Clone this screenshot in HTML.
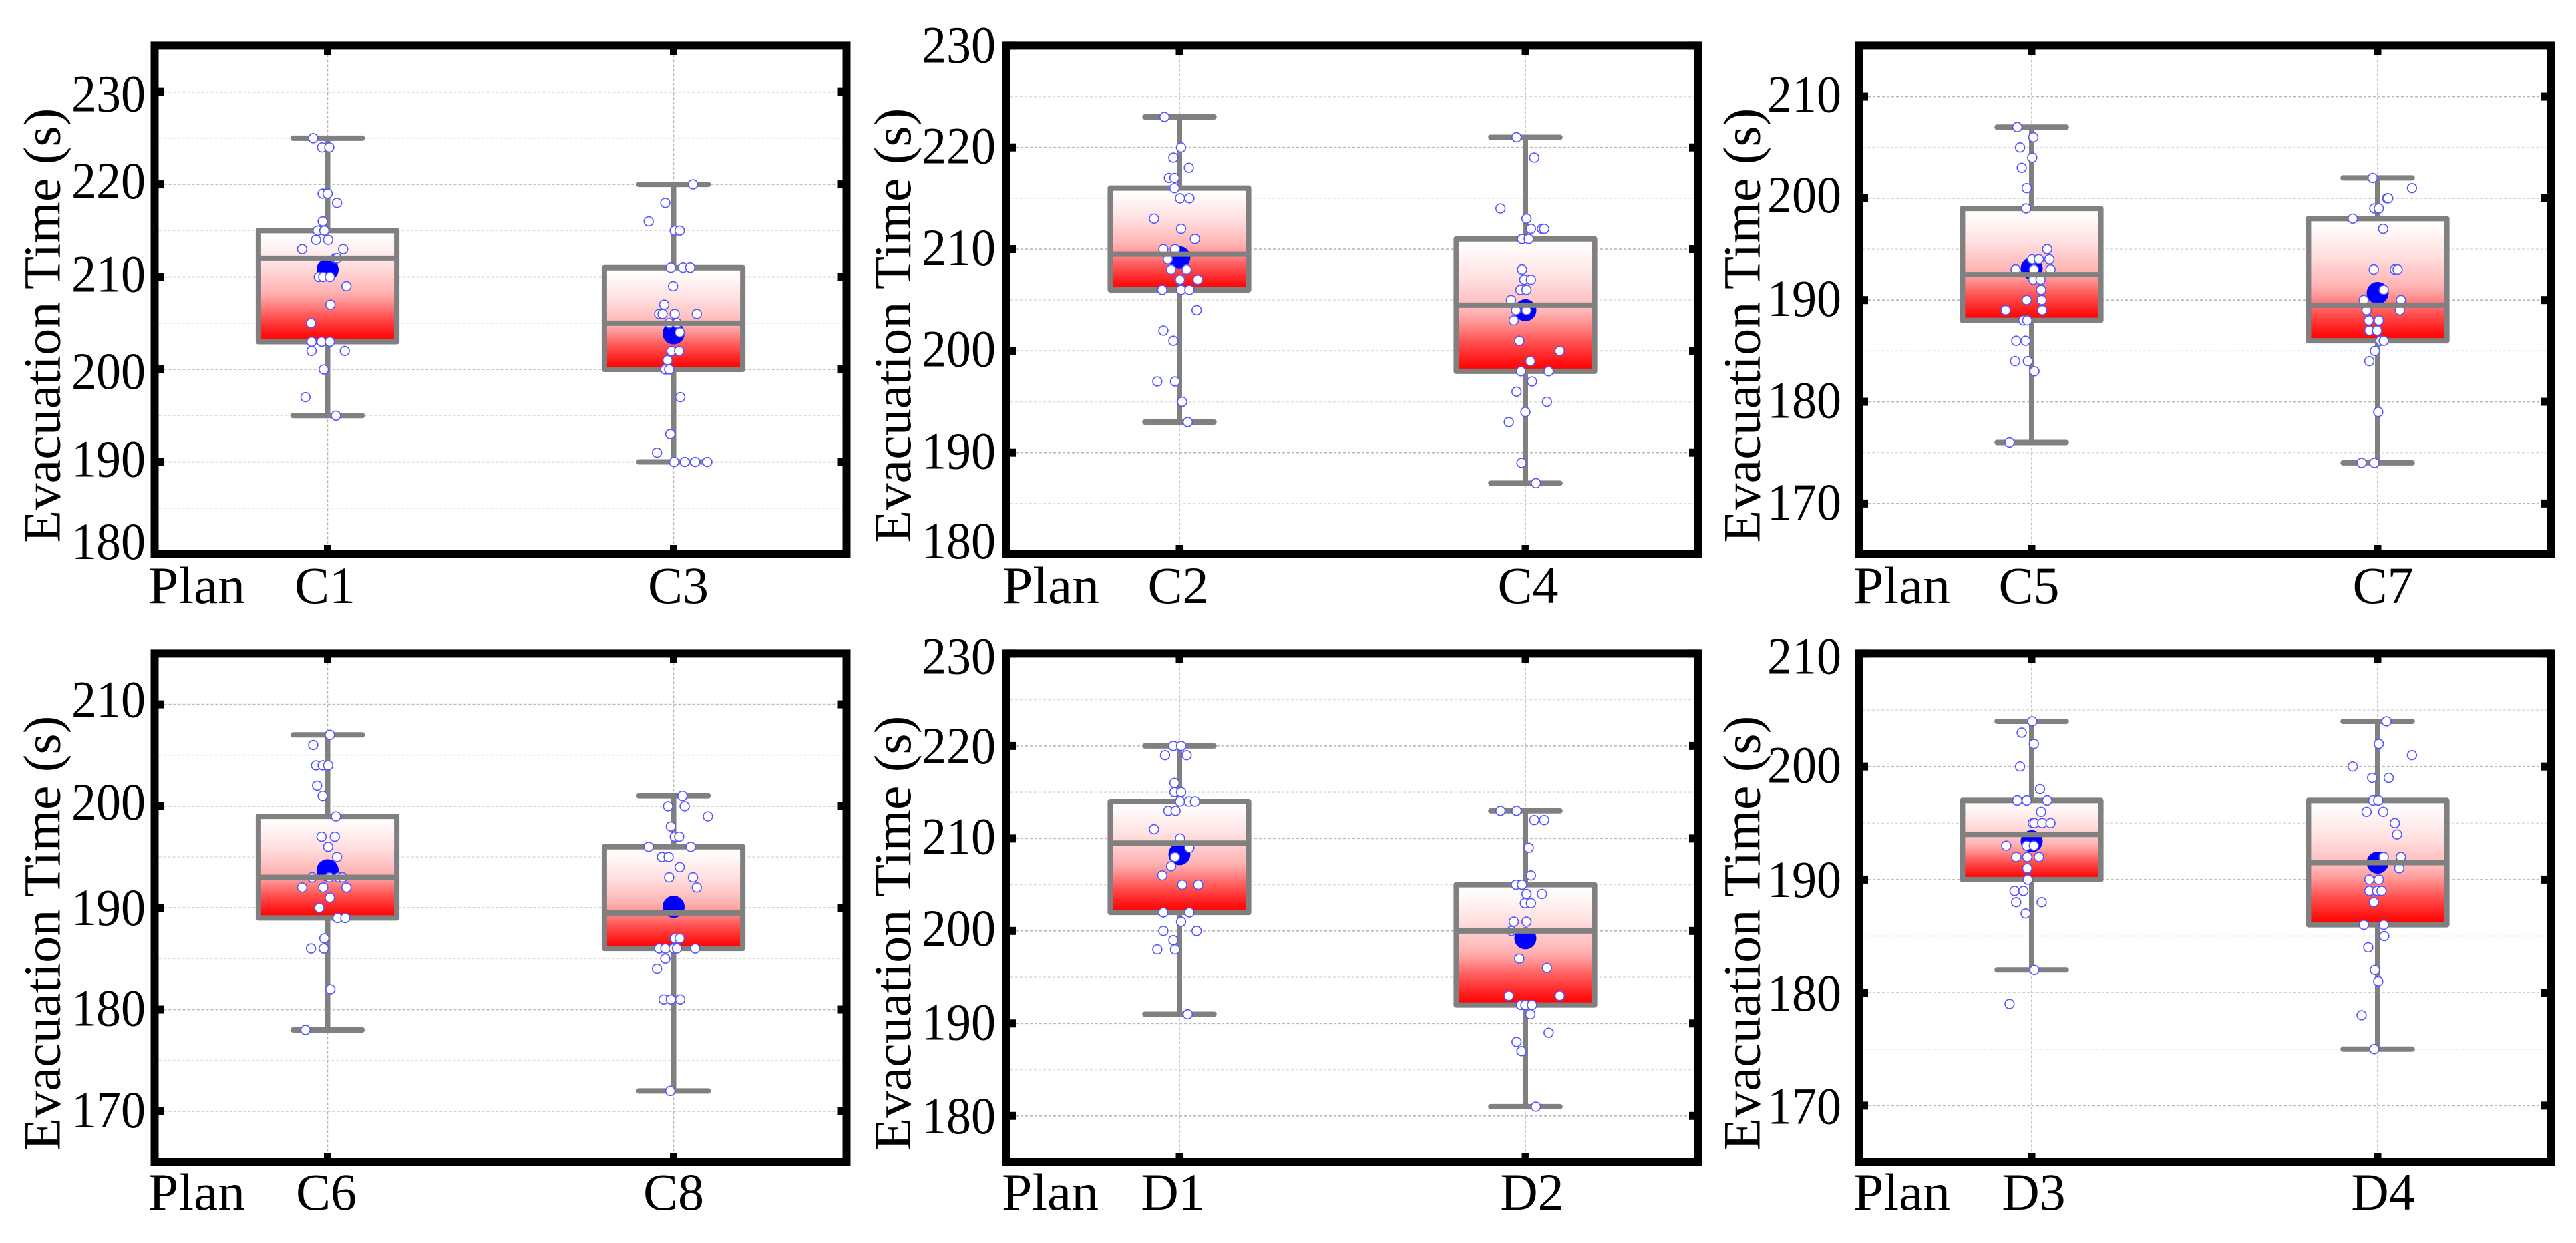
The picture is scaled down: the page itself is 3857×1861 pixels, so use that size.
<!DOCTYPE html>
<html lang="en">
<head>
<meta charset="utf-8">
<title>Evacuation time box plots</title>
<style>
  html, body { margin: 0; padding: 0; background: #fff; }
  #chart { display: block; width: 3857px; height: 1861px; }
  text { font-family: "Liberation Serif", serif; fill: #000; }
</style>
</head>
<body>
<svg id="chart" xmlns="http://www.w3.org/2000/svg" width="3857" height="1861" viewBox="0 0 3857 1861">
  <defs>
    <linearGradient id="boxFill" x1="0" y1="0" x2="0" y2="1">
      <stop offset="0" stop-color="#ffffff"/>
      <stop offset="0.08" stop-color="#fffafa"/>
      <stop offset="0.3" stop-color="#ffe0e0"/>
      <stop offset="0.55" stop-color="#ffb4b4"/>
      <stop offset="0.62" stop-color="#ff9a9a"/>
      <stop offset="0.78" stop-color="#ff5050"/>
      <stop offset="0.94" stop-color="#ff1010"/>
      <stop offset="1" stop-color="#ff0000"/>
    </linearGradient>
  </defs>
  <rect x="0" y="0" width="3857" height="1861" fill="#ffffff"/>
</svg>
<script>
/* ---------- Data: y-axis ranges and tick labels ---------- */
const domainC1C3 = [180, 235];
const domainC2C4 = [180, 230];
const domainC5C7 = [165, 215];
const domainC6C8 = [165, 215];
const domainD1D2 = [175, 230];
const domainD3D4 = [165, 210];

const ticksC1C3 = [180, 190, 200, 210, 220, 230];
const ticksC2C4 = [180, 190, 200, 210, 220, 230];
const ticksC5C7 = [170, 180, 190, 200, 210];
const ticksC6C8 = [170, 180, 190, 200, 210];
const ticksD1D2 = [180, 190, 200, 210, 220, 230];
const ticksD3D4 = [170, 180, 190, 200, 210];

/* ---------- Data: plan names ---------- */
const plansC1C3 = ["C1", "C3"];
const plansC2C4 = ["C2", "C4"];
const plansC5C7 = ["C5", "C7"];
const plansC6C8 = ["C6", "C8"];
const plansD1D2 = ["D1", "D2"];
const plansD3D4 = ["D3", "D4"];

/* ---------- Data: box statistics [lower whisker, Q1, median, Q3, upper whisker] ---------- */
const boxC1 = [195, 203, 212, 215, 225];
const boxC3 = [190, 200, 205, 211, 220];
const boxC2 = [193, 206, 209.5, 216, 223];
const boxC4 = [187, 198, 204.5, 211, 221];
const boxC5 = [176, 188, 192.5, 199, 207];
const boxC7 = [174, 186, 189.5, 198, 202];
const boxC6 = [178, 189, 193, 199, 207];
const boxC8 = [172, 186, 189.5, 196, 201];
const boxD1 = [191, 202, 209.5, 214, 220];
const boxD2 = [181, 192, 200, 205, 213];
const boxD3 = [182, 190, 194, 197, 204];
const boxD4 = [175, 186, 191.5, 197, 204];

/* ---------- Data: means ---------- */
const meanC1 = 210.8;
const meanC3 = 203.9;
const meanC2 = 209.2;
const meanC4 = 204;
const meanC5 = 193.1;
const meanC7 = 190.7;
const meanC6 = 193.7;
const meanC8 = 190.1;
const meanD1 = 208.3;
const meanD2 = 199.2;
const meanD3 = 193.4;
const meanD4 = 191.5;

/* ---------- Data: observed times and the jitter of each (1 jitter unit = 1/625 of a category) ---------- */
const timesC1 = [225,224,224,219,219,218,216,215,215,214,214,213,213,212,212,210,210,210,209,207,205,203,203,203,202,202,200,197,195];
const jitterC1 = [-26,-10,3,-9,0,17,-9,-18,-6,-21,1,-46,28,14,17,-16,-8,4,34,5,-30,-29,-11,4,-29,31,-7,-40,15];

const timesC3 = [220,218,216,215,215,211,211,211,209,207,206,206,206,206,205,205,204,202,202,201,200,200,197,193,191,190,190,190,190];
const jitterC3 = [35,-15,-45,2,11,-5,17,30,-1,-17,-26,-20,2,42,-8,6,11,-4,10,-11,-15,-8,12,-6,-30,1,20,39,61];

const timesC2 = [223,220,219,218,217,217,216,215,215,213,212,211,210,210,209,208,208,207,207,206,206,206,204,202,201,197,197,195,193];
const jitterC2 = [-27,3,-11,17,-19,-9,-9,1,18,-46,3,28,-29,-8,-21,-15,13,1,33,-31,3,18,31,-29,-11,-40,-8,5,15];

const timesC4 = [221,219,214,213,212,212,212,211,211,208,207,207,206,206,205,204,204,203,201,200,199,198,198,197,196,195,194,193,189,187];
const jitterC4 = [-16,16,-45,2,10,30,34,-6,6,-6,-2,10,-9,2,-26,-17,2,-21,-11,62,9,-8,42,12,-16,39,0,-30,-7,19];

const timesC5 = [207,206,205,204,203,201,199,195,194,194,194,193,193,193,192,192,191,190,190,189,189,188,188,186,186,184,184,183,176];
const jitterC5 = [-26,3,-21,1,-18,-9,-10,28,1,13,32,-29,4,34,3,16,17,-9,18,-47,19,-15,-8,-28,-11,-30,-7,5,-40];

const timesC7 = [202,201,200,200,199,199,198,197,193,193,193,191,190,190,189,189,188,188,187,187,186,186,185,184,179,174,174];
const jitterC7 = [-9,62,17,19,-6,2,-45,10,-7,31,36,11,-25,42,-20,40,-16,2,-15,-1,5,11,-5,-15,1,-29,-6];

const timesC6 = [207,206,204,204,204,202,201,199,197,197,196,195,193,193,193,193,192,192,192,191,190,189,189,187,186,186,182,178];
const jitterC6 = [4,-26,-21,-9,1,-19,-9,15,-11,13,1,17,-28,3,20,27,-46,-8,34,4,-15,18,32,-6,-30,-7,5,-40];

const timesC8 = [201,200,200,199,198,197,197,196,196,195,195,194,193,193,192,187,187,186,186,186,186,186,185,184,181,181,181,172];
const jitterC8 = [16,-10,20,62,-5,2,10,-45,31,-21,-9,11,-8,35,42,2,11,-26,-15,0,6,39,-15,-30,-18,-5,12,-6];

const timesD1 = [220,220,219,219,216,215,215,214,214,214,213,213,211,210,209,208,207,206,205,205,202,202,201,200,200,199,198,198,191];
const jitterD1 = [-11,3,-26,13,-9,-9,3,1,17,28,-20,-7,-46,1,18,-8,-15,-31,5,34,-29,18,3,-29,31,-11,-40,-8,15];

const timesD2 = [213,213,212,212,209,206,205,205,204,204,203,203,201,201,200,197,196,193,193,192,192,192,191,189,188,187,181];
const jitterD2 = [-45,-16,16,34,6,10,-17,-6,2,30,-1,10,-21,2,-25,-11,39,-30,62,-8,0,12,9,42,-16,-7,19];

const timesD3 = [204,203,202,200,198,197,197,197,196,195,195,195,195,193,193,193,192,192,192,191,190,189,189,188,188,187,182,179];
const jitterD3 = [1,-18,4,-21,15,-26,-9,28,17,2,5,19,34,-46,-9,4,-28,-8,13,-8,-7,-31,-15,-28,18,-11,5,-40];

const timesD4 = [204,202,201,200,199,199,197,197,196,196,195,194,192,192,191,190,190,189,189,189,188,186,186,185,184,182,181,178,175];
const jitterD4 = [16,2,62,-45,-10,20,-8,1,-20,10,31,35,11,42,39,-15,2,-15,-1,7,-7,-25,11,12,-17,-5,1,-29,-6];

/* ---------- Panel wiring (data) ---------- */
const panels = [
  { id: "c1-c3", domain: domainC1C3, ticks: ticksC1C3, plans: plansC1C3, boxes: [boxC1, boxC3], means: [meanC1, meanC3], times: [timesC1, timesC3], jitter: [jitterC1, jitterC3] },
  { id: "c2-c4", domain: domainC2C4, ticks: ticksC2C4, plans: plansC2C4, boxes: [boxC2, boxC4], means: [meanC2, meanC4], times: [timesC2, timesC4], jitter: [jitterC2, jitterC4] },
  { id: "c5-c7", domain: domainC5C7, ticks: ticksC5C7, plans: plansC5C7, boxes: [boxC5, boxC7], means: [meanC5, meanC7], times: [timesC5, timesC7], jitter: [jitterC5, jitterC7] },
  { id: "c6-c8", domain: domainC6C8, ticks: ticksC6C8, plans: plansC6C8, boxes: [boxC6, boxC8], means: [meanC6, meanC8], times: [timesC6, timesC8], jitter: [jitterC6, jitterC8] },
  { id: "d1-d2", domain: domainD1D2, ticks: ticksD1D2, plans: plansD1D2, boxes: [boxD1, boxD2], means: [meanD1, meanD2], times: [timesD1, timesD2], jitter: [jitterD1, jitterD2] },
  { id: "d3-d4", domain: domainD3D4, ticks: ticksD3D4, plans: plansD3D4, boxes: [boxD3, boxD4], means: [meanD3, meanD4], times: [timesD3, timesD4], jitter: [jitterD3, jitterD4] }
];

/* ---------- Layout (frame geometry and label placement, kept apart from the data) ---------- */
const frames = [
  { left: 231.5, top: 68.4,  titleX: 89.5,   tickRight: 218,  planX: 222,  baseline: 903,  labelNudge: [-4, 7],   labelDrop: [7, 22, 29, 22, 21, 29] },
  { left: 1507,  top: 68.4,  titleX: 1363,   tickRight: 1491, planX: 1501, baseline: 903,  labelNudge: [-2, 4],   labelDrop: [6, 24, 23, 24, 24, 25] },
  { left: 2783,  top: 68.4,  titleX: 2634.5, tickRight: 2757, planX: 2775, baseline: 903,  labelNudge: [-4, 8],   labelDrop: [24, 24, 24, 21, 23] },
  { left: 231.5, top: 978.4, titleX: 89.5,   tickRight: 218,  planX: 222,  baseline: 1811, labelNudge: [-2, 0],   labelDrop: [24, 24, 26, 20, 19] },
  { left: 1507,  top: 978.4, titleX: 1363,   tickRight: 1491, planX: 1500, baseline: 1811, labelNudge: [-10, 10], labelDrop: [26, 24, 22, 23, 26, 30] },
  { left: 2783,  top: 978.4, titleX: 2634.5, tickRight: 2757, planX: 2775, baseline: 1811, labelNudge: [3, 8],    labelDrop: [27, 27, 26, 24, 30] }
];
const frameWidth = 1036;
const frameHeight = 761.6;
const frameStroke = 12;
const tickLength = 14;
const fontSize = 78;
const categoryMin = -0.5;
const categoryMax = 1.5;
const jitterUnit = 1 / 625;

const svg = document.getElementById("chart");
const NS = "http://www.w3.org/2000/svg";

function make(tag, attrs, parent) {
  const node = document.createElementNS(NS, tag);
  for (const key in attrs) { node.setAttribute(key, attrs[key]); }
  parent.appendChild(node);
  return node;
}

panels.forEach(function (panel, index) {
  const frame = frames[index];
  const xScale = function (c) { return frame.left + (c - categoryMin) / (categoryMax - categoryMin) * frameWidth; };
  const yScale = function (v) { return frame.top + (panel.domain[1] - v) / (panel.domain[1] - panel.domain[0]) * frameHeight; };
  const categoryPx = xScale(1) - xScale(0);
  const right = frame.left + frameWidth;
  const bottom = frame.top + frameHeight;

  const group = make("g", {}, svg);
  
  

  /* minor horizontal grid lines, every odd multiple of five */
  for (let v = Math.ceil(panel.domain[0] / 5) * 5; v <= panel.domain[1]; v += 5) {
    if (v % 10 === 0) { continue; }
    if (v === panel.domain[0] || v === panel.domain[1]) { continue; }
    const minor = make("line", { x1: frame.left + 6, x2: right - 6, y1: yScale(v), y2: yScale(v), stroke: "#dedede", "stroke-width": 1.6, "stroke-dasharray": "4 3" }, group);
    
    
  }

  /* major horizontal grid lines */
  panel.ticks.forEach(function (v) {
    const major = make("line", { x1: frame.left + 14, x2: right - 14, y1: yScale(v), y2: yScale(v), stroke: "#b8b8b8", "stroke-width": 1.6, "stroke-dasharray": "4 3" }, group);
    
    
  });

  /* vertical grid lines */
  panel.plans.forEach(function (plan, i) {
    const vertical = make("line", { x1: xScale(i), x2: xScale(i), y1: frame.top + 14, y2: bottom - 14, stroke: "#b4b4b4", "stroke-width": 1.5, "stroke-dasharray": "4 3" }, group);
    
    
  });

  /* boxes */
  panel.plans.forEach(function (plan, i) {
    const stats = panel.boxes[i];
    const cx = xScale(i);
    const boxHalf = 0.2 * categoryPx;
    const capHalf = 0.1 * categoryPx;
    const gray = "#808080";

    const whiskerLow = make("line", { x1: cx, x2: cx, y1: yScale(stats[0]), y2: yScale(stats[1]), stroke: gray, "stroke-width": 8 }, group);
    
    

    const whiskerHigh = make("line", { x1: cx, x2: cx, y1: yScale(stats[3]), y2: yScale(stats[4]), stroke: gray, "stroke-width": 8 }, group);
    
    

    const capLow = make("line", { x1: cx - capHalf, x2: cx + capHalf, y1: yScale(stats[0]), y2: yScale(stats[0]), stroke: gray, "stroke-width": 8, "stroke-linecap": "round" }, group);
    
    

    const capHigh = make("line", { x1: cx - capHalf, x2: cx + capHalf, y1: yScale(stats[4]), y2: yScale(stats[4]), stroke: gray, "stroke-width": 8, "stroke-linecap": "round" }, group);
    
    

    const box = make("rect", { x: cx - boxHalf, y: yScale(stats[3]), width: 2 * boxHalf, height: yScale(stats[1]) - yScale(stats[3]), fill: "url(#boxFill)", stroke: gray, "stroke-width": 8, "stroke-linejoin": "round" }, group);
    
    

    const mean = make("circle", { cx: cx, cy: yScale(panel.means[i]), r: 16.5, fill: "#0000ff" }, group);
    
    

    panel.times[i].forEach(function (t, k) {
      const point = make("circle", { cx: cx + panel.jitter[i][k] * jitterUnit * categoryPx, cy: yScale(t), r: 6.9, fill: "#ffffff", stroke: "#5555ff", "stroke-width": 1.6 }, group);
      
      
    });

    const median = make("line", { x1: cx - boxHalf, x2: cx + boxHalf, y1: yScale(stats[2]), y2: yScale(stats[2]), stroke: gray, "stroke-width": 8 }, group);
    
    
  });

  /* ticks on all four sides */
  panel.ticks.forEach(function (v, t) {
    const tickL = make("line", { x1: frame.left, x2: frame.left + tickLength, y1: yScale(v), y2: yScale(v), stroke: "#000", "stroke-width": 12 }, group);
    
    

    const tickR = make("line", { x1: right, x2: right - tickLength, y1: yScale(v), y2: yScale(v), stroke: "#000", "stroke-width": 12 }, group);
    
    

    const label = make("text", { x: frame.tickRight, y: yScale(v) + frame.labelDrop[t], "font-size": fontSize, "text-anchor": "end", textLength: 111, lengthAdjust: "spacingAndGlyphs" }, group);
    
    
    label.textContent = String(v);
  });

  panel.plans.forEach(function (plan, i) {
    const tickT = make("line", { x1: xScale(i), x2: xScale(i), y1: frame.top, y2: frame.top + tickLength, stroke: "#000", "stroke-width": 11 }, group);
    
    

    const tickB = make("line", { x1: xScale(i), x2: xScale(i), y1: bottom, y2: bottom - tickLength, stroke: "#000", "stroke-width": 11 }, group);
    
    

    const planLabel = make("text", { x: xScale(i) + frame.labelNudge[i], y: frame.baseline, "font-size": fontSize, "text-anchor": "middle" }, group);
    
    
    planLabel.textContent = plan;
  });

  /* frame */
  const border = make("rect", { x: frame.left, y: frame.top, width: frameWidth, height: frameHeight, fill: "none", stroke: "#000", "stroke-width": frameStroke }, group);
  
  

  /* axis labels */
  const planWord = make("text", { x: frame.planX, y: frame.baseline, "font-size": fontSize, textLength: 145, lengthAdjust: "spacingAndGlyphs" }, group);
  
  
  planWord.textContent = "Plan";

  const title = make("text", { transform: "translate(" + frame.titleX + "," + (frame.top + frameHeight / 2 + 38) + ") rotate(-90)", "font-size": fontSize, "text-anchor": "middle", textLength: 651, lengthAdjust: "spacingAndGlyphs" }, group);
  
  
  title.textContent = "Evacuation Time (s)";
});
</script>
</body>
</html>
